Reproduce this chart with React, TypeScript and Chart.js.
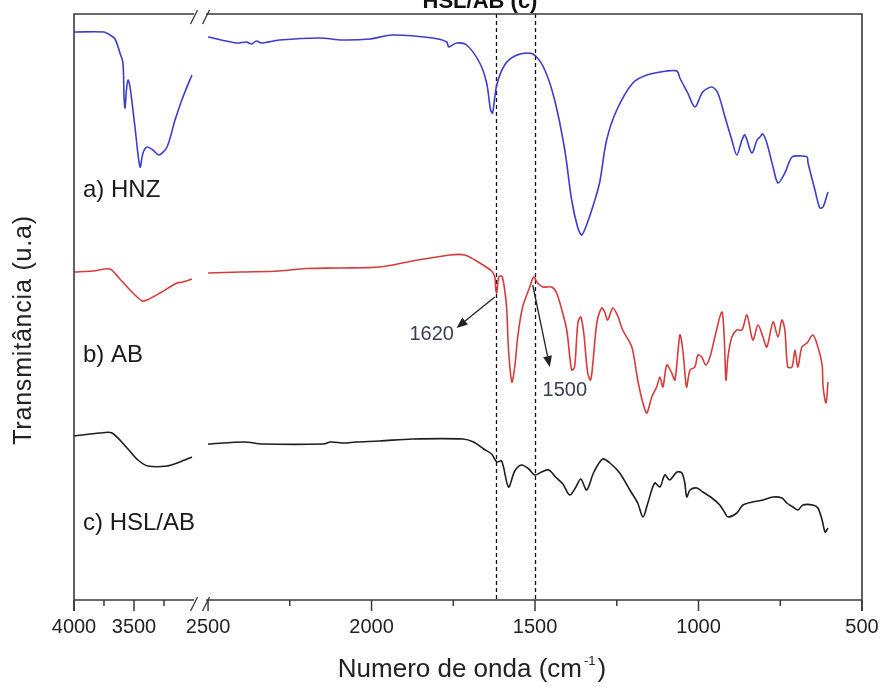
import React, { useEffect, useRef } from "react";
import { Chart, registerables } from "chart.js";

Chart.register(...registerables);

// ---- text ----
const chartTitle = "HSL/AB (c)";
const xAxisTitleMain = "Numero de onda (cm";
const xAxisTitleSup = "-1";
const xAxisTitleEnd = ")";
const yAxisTitle = "Transmitância (u.a)";
const seriesNames = ["a) HNZ", "b) AB", "c) HSL/AB"];

// ---- axis (wavenumber, cm-1) ----
const majorTicks = [4000, 3500, 2500, 2000, 1500, 1000, 500];
const minorTicks = [3750, 3250, 2250, 1750, 1250, 750];
const markerWavenumbers = [1620, 1500];

// ---- a) HNZ ----
const hnzHighWn = [4000, 3750, 3700, 3658, 3617, 3592, 3583, 3575, 3563, 3550, 3533, 3492, 3450, 3425, 3392, 3342, 3292, 3225, 3158, 3092, 3017];
const hnzHighT = [113.6, 113.6, 113.0, 112.2, 109.4, 107.4, 100.6, 98.4, 102, 104, 102.6, 94.6, 86.6, 89.4, 90.6, 90, 89, 90.6, 96, 100.6, 105];
const hnzLowWn = [2500, 2413, 2383, 2367, 2352, 2337, 2282, 2159, 2089, 2006, 1936, 1813, 1770, 1764, 1740, 1709, 1669, 1648, 1636, 1630, 1617, 1593, 1562, 1522, 1498, 1470, 1440, 1409, 1388, 1369, 1357, 1339, 1317, 1302, 1281, 1250, 1201, 1158, 1097, 1066, 1057, 1033, 1011, 987, 959, 941, 919, 898, 883, 867, 858, 837, 821, 812, 803, 791, 772, 757, 736, 714, 684, 668, 665, 644, 629, 619, 604];
const hnzLowT = [112.6, 111.4, 111.6, 111.2, 111.8, 111.4, 112, 112.4, 112, 112.2, 113, 112.4, 111.6, 110.6, 111.4, 111, 107.4, 103.4, 98, 97.4, 103, 107, 108.8, 109.4, 108.8, 106, 100, 90, 80, 74.4, 73, 75.6, 80, 83.6, 92, 98, 103.4, 105, 105.8, 105.8, 104.4, 101.4, 98.6, 101.6, 102.6, 101.4, 96.6, 92, 89, 92, 93, 89.4, 92, 92.6, 93.2, 91.4, 86.6, 83.4, 85.4, 88.6, 88.8, 88.6, 87.4, 82, 78.4, 78.6, 81.6];

// ---- b) AB ----
const abHighWn = [4000, 3842, 3700, 3633, 3533, 3433, 3392, 3283, 3142, 3092, 3017];
const abHighT = [65.6, 65.8, 66.2, 64.6, 62, 59.8, 60, 61.4, 63.4, 63.6, 64.2];
const abLowWn = [2500, 2400, 2282, 2200, 2098, 1975, 1874, 1761, 1715, 1669, 1633, 1623, 1620, 1617, 1611, 1602, 1596, 1587, 1581, 1571, 1562, 1553, 1538, 1516, 1504, 1492, 1476, 1449, 1434, 1418, 1403, 1388, 1379, 1369, 1360, 1351, 1339, 1330, 1323, 1311, 1296, 1287, 1278, 1262, 1247, 1232, 1204, 1186, 1170, 1158, 1143, 1128, 1118, 1109, 1097, 1082, 1072, 1057, 1048, 1039, 1036, 1026, 1011, 1002, 990, 978, 965, 950, 929, 922, 916, 910, 898, 883, 867, 852, 834, 818, 803, 791, 772, 757, 745, 736, 727, 714, 705, 696, 684, 668, 650, 635, 622, 619, 610, 604];
const abLowT = [65.4, 65.6, 65.8, 66.3, 66.4, 66.6, 67.8, 69, 69, 67.4, 65.8, 64.6, 62, 61.4, 64.6, 64.8, 63.4, 58.6, 50, 43.6, 46.6, 52.6, 58.6, 62.6, 64.6, 63.4, 62.6, 62.6, 61.4, 58, 54, 46, 46.6, 55.4, 56.6, 53.4, 45.4, 44, 47.4, 55.4, 58.4, 57.6, 56, 58.4, 56.8, 54, 50.6, 44, 39.4, 37.4, 40.6, 42.6, 44.6, 42.6, 47, 45.4, 44, 53, 50, 43.4, 42.6, 46, 46.6, 49, 48.6, 47, 48.6, 52.6, 57.6, 53.4, 44, 48.6, 52.6, 54, 54, 57, 52, 55, 52.6, 50.6, 55.6, 52.6, 56, 54, 46.6, 46.6, 50, 46.6, 50.6, 51.4, 53, 50.6, 47, 42.6, 39.4, 43.6];

// ---- c) HSL/AB ----
const hslHighWn = [4000, 3783, 3683, 3558, 3467, 3383, 3225, 3117, 3017];
const hslHighT = [32.8, 33.4, 33.4, 30.4, 28, 26.8, 26.8, 27.6, 28.6];
const hslLowWn = [2500, 2389, 2334, 2147, 2125, 2083, 2049, 1975, 1874, 1721, 1688, 1657, 1633, 1617, 1602, 1581, 1562, 1541, 1519, 1501, 1480, 1458, 1437, 1415, 1394, 1375, 1360, 1342, 1320, 1293, 1271, 1241, 1210, 1186, 1170, 1155, 1134, 1118, 1103, 1088, 1066, 1051, 1042, 1036, 1026, 1005, 987, 959, 935, 919, 910, 883, 864, 834, 803, 772, 745, 730, 711, 696, 681, 650, 635, 622, 613, 604];
const hslLowT = [31.2, 31.6, 31.2, 31.2, 31.6, 31.4, 31.6, 31.8, 32.2, 32.2, 31.6, 30.2, 29.2, 27.6, 27.8, 22.6, 25.8, 27, 26.2, 25, 25.6, 26, 24.6, 23.2, 21, 22.6, 24.2, 22, 25.6, 28.2, 27.4, 25.4, 22, 19.4, 16.6, 19.4, 23.4, 22.6, 25, 24, 25.6, 25.4, 23.4, 20.6, 22, 22.4, 21.6, 20.4, 19, 17.4, 16.6, 17.4, 19, 19.6, 20, 20.6, 20.4, 19.4, 18.6, 18, 19, 19, 18.4, 16, 13.6, 14.4];

// ---- annotations (data coordinates: wavenumber, transmittance a.u.) ----
const seriesLabelWn = 3925;
const seriesLabelT = [82, 49, 15.4];
const arrowLabels = ["1620", "1500"];
const arrowFromWn = [1623, 1507];
const arrowFromT = [60.6, 63];
const arrowToWn = [1740, 1455];
const arrowToT = [54.4, 46.6];
const arrowTextWn = [1816, 1409];
const arrowTextT = [53.2, 42];

// ---- axis break mapping ----
const BREAK_LOW = 2500;
const BREAK_HIGH = 3000;
const BREAK_GAP = 43;
const HIGH_COMPRESSION = 0.367;
function toAxis(wn: number): number {
  return wn <= BREAK_LOW ? wn : BREAK_LOW + BREAK_GAP + (wn - BREAK_HIGH) * HIGH_COMPRESSION;
}
function buildPoints(hiWn: number[], hiT: number[], loWn: number[], loT: number[]) {
  const pts: { x: number; y: number | null }[] = hiWn.map((w, i) => ({ x: toAxis(w), y: hiT[i] }));
  pts.push({ x: BREAK_LOW + BREAK_GAP / 2, y: null });
  loWn.forEach((w, i) => pts.push({ x: toAxis(w), y: loT[i] }));
  return pts;
}

const FONT = "'Liberation Sans', Arial, Helvetica, sans-serif";
const colors = ["#3d3dcc", "#d63c3c", "#1e1e1e"];

const decorPlugin = {
  id: "decor",
  beforeDatasetsDraw(chart: any) {
    const { ctx, chartArea, scales } = chart;
    const { top, bottom } = chartArea;
    ctx.save();
    ctx.strokeStyle = "#111";
    ctx.lineWidth = 1.3;
    ctx.setLineDash([4, 3]);
    for (const wn of markerWavenumbers) {
      const x = Math.round(scales.x.getPixelForValue(toAxis(wn))) + 0.5;
      ctx.beginPath();
      ctx.moveTo(x, top);
      ctx.lineTo(x, bottom);
      ctx.stroke();
    }
    ctx.restore();
  },
  afterDraw(chart: any) {
    const { ctx, chartArea, scales } = chart;
    const { left, right, top, bottom } = chartArea;
    const px = (wn: number) => scales.x.getPixelForValue(toAxis(wn));
    const py = (t: number) => scales.y.getPixelForValue(t);
    const breakX = (px(BREAK_HIGH) + px(BREAK_LOW)) / 2;
    const slashA = breakX - 7;
    const slashB = breakX + 5;

    ctx.save();
    ctx.strokeStyle = "#3a3a3a";
    ctx.lineWidth = 1.6;
    ctx.lineCap = "butt";
    // frame
    ctx.beginPath();
    ctx.moveTo(left, bottom + 11);
    ctx.lineTo(left, top);
    ctx.lineTo(slashA, top);
    ctx.moveTo(slashB, top);
    ctx.lineTo(right, top);
    ctx.lineTo(right, bottom + 11);
    ctx.moveTo(left, bottom);
    ctx.lineTo(slashA, bottom);
    ctx.moveTo(slashB, bottom);
    ctx.lineTo(right, bottom);
    ctx.stroke();
    // break marks
    ctx.lineWidth = 1.3;
    for (const yc of [top + 3, bottom + 4]) {
      for (const xc of [slashA, slashB]) {
        ctx.beginPath();
        ctx.moveTo(xc - 3.5, yc + 7);
        ctx.lineTo(xc + 3.5, yc - 7);
        ctx.stroke();
      }
    }
    // ticks
    ctx.lineWidth = 1.5;
    for (const t of majorTicks) {
      const x = px(t);
      ctx.beginPath();
      ctx.moveTo(x, bottom);
      ctx.lineTo(x, bottom + 11);
      ctx.stroke();
    }
    for (const t of minorTicks) {
      const x = px(t);
      ctx.beginPath();
      ctx.moveTo(x, bottom);
      ctx.lineTo(x, bottom + 6);
      ctx.stroke();
    }
    // tick labels
    ctx.fillStyle = "#222";
    ctx.font = `20px ${FONT}`;
    ctx.textAlign = "center";
    ctx.textBaseline = "middle";
    for (const t of majorTicks) {
      ctx.fillText(String(t), px(t), bottom + 27);
    }

    // x title
    const cx = (left + right) / 2 + 4;
    const baseY = bottom + 77;
    ctx.textBaseline = "alphabetic";
    ctx.textAlign = "left";
    ctx.font = `26px ${FONT}`;
    const w1 = ctx.measureText(xAxisTitleMain).width;
    const w3 = ctx.measureText(xAxisTitleEnd).width;
    ctx.font = `13px ${FONT}`;
    const w2 = ctx.measureText(xAxisTitleSup).width + 4;
    const sx = cx - (w1 + w2 + w3) / 2;
    ctx.font = `26px ${FONT}`;
    ctx.fillText(xAxisTitleMain, sx, baseY);
    ctx.font = `13px ${FONT}`;
    ctx.fillText(xAxisTitleSup, sx + w1 + 2, baseY - 12);
    ctx.font = `26px ${FONT}`;
    ctx.fillText(xAxisTitleEnd, sx + w1 + w2, baseY);

    // y title
    ctx.save();
    ctx.translate(24, (top + bottom) / 2 + 23);
    ctx.rotate(-Math.PI / 2);
    ctx.textAlign = "center";
    ctx.textBaseline = "middle";
    ctx.font = `25px ${FONT}`;
    try { (ctx as any).letterSpacing = "0.8px"; } catch (e) {}
    ctx.fillText(yAxisTitle, 0, 0);
    ctx.restore();

    // chart title (partly cut at the top of the page)
    ctx.font = `bold 22px ${FONT}`;
    ctx.textAlign = "center";
    ctx.textBaseline = "alphabetic";
    ctx.fillStyle = "#111";
    ctx.fillText(chartTitle, (left + right) / 2 + 12, 8);

    // series labels
    ctx.fillStyle = "#1a1a1a";
    ctx.font = `24px ${FONT}`;
    ctx.textAlign = "left";
    ctx.textBaseline = "middle";
    seriesNames.forEach((name, i) => {
      ctx.fillText(name, px(seriesLabelWn), py(seriesLabelT[i]));
    });

    // arrows
    ctx.strokeStyle = "#222";
    ctx.fillStyle = "#222";
    ctx.lineWidth = 1.3;
    arrowLabels.forEach((lab, i) => {
      const x0 = px(arrowFromWn[i]);
      const y0 = py(arrowFromT[i]);
      const x1 = px(arrowToWn[i]);
      const y1 = py(arrowToT[i]);
      const ang = Math.atan2(y1 - y0, x1 - x0);
      const hl = 11;
      const hw = 4.5;
      const bx = x1 - hl * Math.cos(ang);
      const by = y1 - hl * Math.sin(ang);
      ctx.beginPath();
      ctx.moveTo(x0, y0);
      ctx.lineTo(bx, by);
      ctx.stroke();
      ctx.beginPath();
      ctx.moveTo(x1, y1);
      ctx.lineTo(bx + hw * Math.sin(ang), by - hw * Math.cos(ang));
      ctx.lineTo(bx - hw * Math.sin(ang), by + hw * Math.cos(ang));
      ctx.closePath();
      ctx.fill();
      ctx.save();
      ctx.fillStyle = "#3b3e52";
      ctx.font = `20px ${FONT}`;
      ctx.textAlign = "center";
      ctx.textBaseline = "middle";
      ctx.fillText(lab, px(arrowTextWn[i]), py(arrowTextT[i]));
      ctx.restore();
    });
    ctx.restore();
  },
};

export default function App() {
  const ref = useRef<HTMLCanvasElement>(null);
  useEffect(() => {
    document.body.style.margin = "0";
    const canvas = ref.current;
    if (!canvas) return;
    const chart = new Chart(canvas, {
      type: "line",
      data: {
        datasets: [
          { label: seriesNames[0], data: buildPoints(hnzHighWn, hnzHighT, hnzLowWn, hnzLowT), borderColor: colors[0] },
          { label: seriesNames[1], data: buildPoints(abHighWn, abHighT, abLowWn, abLowT), borderColor: colors[1] },
          { label: seriesNames[2], data: buildPoints(hslHighWn, hslHighT, hslLowWn, hslLowT), borderColor: colors[2] },
        ] as any,
      },
      options: {
        responsive: false,
        animation: false,
        devicePixelRatio: 1,
        spanGaps: false,
        layout: { padding: { left: 74, right: 19, top: 14, bottom: 89 } },
        scales: {
          x: { type: "linear", display: false, reverse: true, min: 500, max: toAxis(4000) },
          y: { type: "linear", display: false, min: 0, max: 117.2 },
        },
        elements: {
          point: { radius: 0 },
          line: { tension: 0.3, borderWidth: 1.6, borderJoinStyle: "round", capBezierPoints: true },
        },
        plugins: {
          legend: { display: false },
          tooltip: { enabled: false },
          title: { display: false },
        },
      } as any,
      plugins: [decorPlugin],
    });
    return () => chart.destroy();
  }, []);
  return <canvas ref={ref} width={881} height={689} style={{ display: "block" }} />;
}
